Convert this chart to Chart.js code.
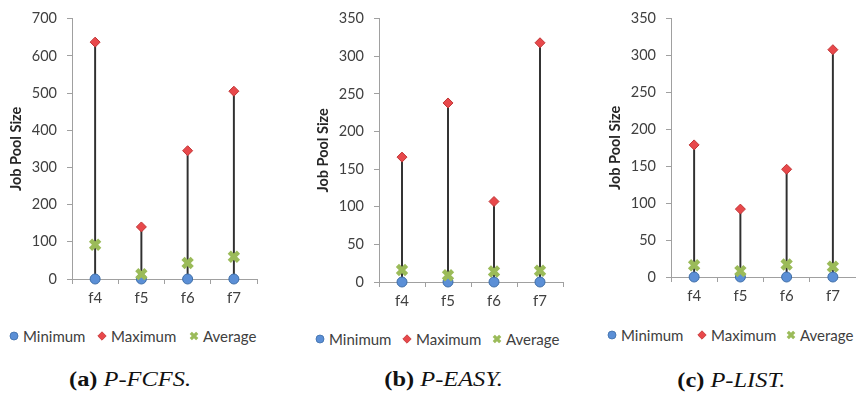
<!DOCTYPE html>
<html><head><meta charset="utf-8">
<script src="https://cdn.jsdelivr.net/npm/chart.js@4.4.0/dist/chart.umd.min.js"></script>
<style>
html,body{margin:0;padding:0;background:#fff;width:856px;height:396px;overflow:hidden;}
body{position:relative;font-family:Lato,"Open Sans",sans-serif;}
canvas.cv{position:absolute;top:0;}
.lg-icon{position:absolute;width:10px;height:10px;line-height:0;}
.lg-icon svg{display:block;}
.lg-text{position:absolute;font-size:15px;line-height:20px;color:#404040;white-space:nowrap;}
.cap{position:absolute;width:240px;text-align:center;font-family:"Liberation Serif","Times New Roman",serif;font-size:20px;line-height:24px;color:#111;}
.cap span.in{display:inline-block;transform:scaleX(1.22);transform-origin:center;}
.cap b{font-weight:bold;}
.cap i{font-style:italic;margin-left:5px;}
</style></head>
<body>
<canvas id="cA" class="cv" width="290" height="320" style="left:0px;width:290px;height:320px"></canvas>
<canvas id="cB" class="cv" width="290" height="320" style="left:307px;width:290px;height:320px"></canvas>
<canvas id="cC" class="cv" width="290" height="320" style="left:599px;width:290px;height:320px"></canvas>
<div id="legends"></div>
<div class="cap" style="left:10px;top:367px"><span class="in"><b>(a)</b><i>P-FCFS.</i></span></div>
<div class="cap" style="left:324px;top:367px"><span class="in"><b>(b)</b><i>P-EASY.</i></span></div>
<div class="cap" style="left:611px;top:368px"><span class="in"><b>(c)</b><i>P-LIST.</i></span></div>
<script>
// ---- data ----
const categories = ['f4', 'f5', 'f6', 'f7'];
const seriesNames = ['Minimum', 'Maximum', 'Average'];

const fcfsMin = [0, 0, 0, 0];
const fcfsMax = [637, 140, 345, 505];
const fcfsAvg = [92, 13, 43, 60];

const easyMin = [0, 0, 0, 0];
const easyMax = [166, 238, 107, 318];
const easyAvg = [16, 9, 14, 15];

const listMin = [0, 0, 0, 0];
const listMax = [179, 92, 146, 308];
const listAvg = [16, 8, 17, 14];

const fcfsYTicks = [0, 100, 200, 300, 400, 500, 600, 700];
const easyYTicks = [0, 50, 100, 150, 200, 250, 300, 350];
const listYTicks = [0, 50, 100, 150, 200, 250, 300, 350];

const yTitle = 'Job Pool Size';

// ---- styles ----
const AXIS = '#a0a0a0';
const TXT = '#404040';
const MIN_FILL = '#5b8fd6', MIN_EDGE = '#3e6ea8';
const MAX_FILL = '#e8484b', MAX_EDGE = '#c03535';
const AVG_COL = '#9bbb59';
const CANVAS_H = 320;

function makeChart(id, mins, maxs, avgs, yTicks, top, bottom, padRight) {
  const ctx = document.getElementById(id).getContext('2d');
  return new Chart(ctx, {
    type: 'bar',
    data: {
      labels: categories,
      datasets: [
        {
          type: 'bar', label: 'range',
          data: maxs.map((m, i) => [mins[i], m]),
          backgroundColor: '#303030', borderWidth: 0,
          barThickness: 1.3, order: 10, grouped: false
        },
        {
          type: 'line', label: seriesNames[0], data: mins, showLine: false, clip: false,
          pointStyle: 'circle', pointRadius: 5, pointBackgroundColor: MIN_FILL,
          pointBorderColor: MIN_EDGE, pointBorderWidth: 1, order: 3
        },
        {
          type: 'line', label: seriesNames[1], data: maxs, showLine: false, clip: false,
          pointStyle: 'rectRot', pointRadius: 5, pointBackgroundColor: MAX_FILL,
          pointBorderColor: MAX_EDGE, pointBorderWidth: 1, order: 2
        },
        {
          type: 'line', label: seriesNames[2], data: avgs, showLine: false, clip: false,
          pointStyle: 'crossRot', pointRadius: 6.5, pointBackgroundColor: AVG_COL,
          pointBorderColor: AVG_COL, pointBorderWidth: 4.5, order: 1
        }
      ]
    },
    options: {
      responsive: false,
      animation: false,
      layout: { padding: { top: top, right: padRight, left: 0, bottom: 0 } },
      plugins: { legend: { display: false }, tooltip: { enabled: false } },
      scales: {
        x: {
          offset: true,
          grid: { display: true, drawOnChartArea: false, drawTicks: true, tickLength: 5, offset: true, color: AXIS },
          border: { display: true, color: AXIS, width: 1 },
          ticks: { color: TXT, font: { family: 'Lato', size: 15 }, padding: 5, maxRotation: 0 },
          afterFit: (s) => { s.height = CANVAS_H - bottom; }
        },
        y: {
          min: yTicks[0], max: yTicks[yTicks.length - 1],
          grid: { display: true, drawOnChartArea: false, drawTicks: true, tickLength: 5, color: AXIS },
          border: { display: true, color: AXIS, width: 1 },
          ticks: { stepSize: yTicks[1] - yTicks[0], color: TXT, font: { family: 'Lato', size: 14.5 }, padding: 10 },
          title: { display: true, text: yTitle, color: '#262626', font: { family: 'Lato', size: 14.5, weight: 'bold' }, padding: { top: 8, bottom: 0 } },
          afterFit: (s) => { s.width = 72; }
        }
      }
    }
  });
}

makeChart('cA', fcfsMin, fcfsMax, fcfsAvg, fcfsYTicks, 12, 279, 33);
makeChart('cB', easyMin, easyMax, easyAvg, easyYTicks, 17, 282, 34);
makeChart('cC', listMin, listMax, listAvg, listYTicks, 14, 277, 33);

// ---- legends (HTML) ----
const icons = [
  `<svg width="10" height="10" viewBox="0 0 10 10"><circle cx="5" cy="5" r="4" fill="${MIN_FILL}" stroke="${MIN_EDGE}" stroke-width="0.8"/></svg>`,
  `<svg width="10" height="10" viewBox="0 0 10 10"><polygon points="5,0.8 9.2,5 5,9.2 0.8,5" fill="${MAX_FILL}" stroke="${MAX_EDGE}" stroke-width="0.8"/></svg>`,
  `<svg width="10" height="10" viewBox="0 0 10 10"><path d="M1.8,1.8 L8.2,8.2 M8.2,1.8 L1.8,8.2" stroke="${AVG_COL}" stroke-width="3.2"/></svg>`
];
const legendSpecs = [
  { x: 14, y: 336, offs: [0, 88, 180] },
  { x: 320, y: 339, offs: [0, 87, 177] },
  { x: 612, y: 335, offs: [0, 90, 179] }
];
const lgRoot = document.getElementById('legends');
legendSpecs.forEach(spec => {
  seriesNames.forEach((name, k) => {
    const cx = spec.x + spec.offs[k];
    const ic = document.createElement('div');
    ic.className = 'lg-icon';
    ic.style.left = (cx - 5) + 'px';
    ic.style.top = (spec.y - 5) + 'px';
    ic.innerHTML = icons[k];
    lgRoot.appendChild(ic);
    const tx = document.createElement('div');
    tx.className = 'lg-text';
    tx.style.left = (cx + 9) + 'px';
    tx.style.top = (spec.y - 10) + 'px';
    tx.textContent = name;
    lgRoot.appendChild(tx);
  });
});
</script>
</body></html>
